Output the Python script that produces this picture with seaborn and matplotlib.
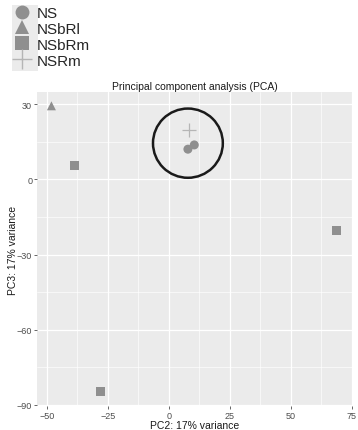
import numpy as np
import pandas as pd
import matplotlib
matplotlib.use("Agg")
import matplotlib.pyplot as plt
import seaborn as sns
from matplotlib.patches import Ellipse, Rectangle

# PCA scores
groups = ['NSbRl', 'NSbRm', 'NSRm', 'NS', 'NS', 'NSbRm', 'NSbRm']
pc2 = [-48.1, -38.6, 8.3, 7.8, 10.4, -27.9, 68.8]
pc3 = [29.3, 5.4, 19.5, 12.0, 13.7, -84.8, -20.5]
group_order = ['NS', 'NSbRl', 'NSbRm', 'NSRm']
group_markers = {'NS': 'o', 'NSbRl': '^', 'NSbRm': 's', 'NSRm': '+'}
x_ticks = [-50, -25, 0, 25, 50, 75]
y_ticks = [30, 0, -30, -60, -90]

df = pd.DataFrame({'group': groups, 'PC2': pc2, 'PC3': pc3})

sns.set_style("darkgrid", {"axes.facecolor": "#EBEBEB", "grid.color": "white"})
plt.rcParams['font.family'] = ['Liberation Sans', 'DejaVu Sans']

my_dpi = 100
fig = plt.figure(figsize=(358 / my_dpi, 431 / my_dpi), dpi=my_dpi)
ax = fig.add_axes([0.1034, 0.0557, 0.8798, 0.7285])

# filled markers go through seaborn, the line-art plus separately
filled = df[df['group'] != 'NSRm']
filled_order = [g for g in group_order if g != 'NSRm']
sns.scatterplot(data=filled, x='PC2', y='PC3', style='group',
                style_order=filled_order,
                markers={g: group_markers[g] for g in filled_order},
                color='#8f8f8f', s=42, linewidth=0, ax=ax, legend=False,
                zorder=3)
plus = df[df['group'] == 'NSRm']
sns.scatterplot(data=plus, x='PC2', y='PC3', marker='+', s=90,
                color='#b5b5b5', linewidth=0.9, ax=ax, legend=False, zorder=3)

# highlight circle around the NS cluster
ax.add_patch(Ellipse((7.8, 14.4), 28.6, 27.6, fill=False,
                     edgecolor='#1a1a1a', linewidth=1.8, zorder=4))

ax.set_xlim(-54.0, 75.0)
ax.set_ylim(-90.4, 34.8)
ax.set_xticks(x_ticks)
ax.set_yticks(y_ticks)
ax.set_xticks([-37.5, -12.5, 12.5, 37.5, 62.5], minor=True)
ax.set_yticks([-75, -45, -15, 15], minor=True)
ax.grid(which='major', color='white', linewidth=0.9)
ax.grid(which='minor', color='white', linewidth=0.45)
ax.tick_params(axis='both', which='major', length=2.5, width=0.6,
               colors='#4d4d4d', labelsize=6.5, pad=1, bottom=True, left=True)
ax.tick_params(axis='both', which='minor', length=0)
for s in ax.spines.values():
    s.set_visible(False)

ax.set_xlabel('PC2: 17% variance', fontsize=7.5, labelpad=0, color='#1a1a1a')
ax.set_ylabel('PC3: 17% variance', fontsize=7.5, labelpad=-1, color='#1a1a1a')
ax.set_title('Principal component analysis (PCA)', fontsize=7.5, pad=2.5,
             color='#1a1a1a')

# legend with grey key background above the panel
fig.patches.append(Rectangle((12 / 358, 1 - 72 / 431), 26 / 358, 66 / 431,
                             transform=fig.transFigure, facecolor='#EBEBEB',
                             edgecolor='none', zorder=0))
handles = []
for g in group_order:
    m = group_markers[g]
    if m == '+':
        h = plt.Line2D([], [], marker='+', linestyle='none', color='#b5b5b5',
                       markersize=15, markeredgewidth=1)
    else:
        h = plt.Line2D([], [], marker=m, linestyle='none', color='#8f8f8f',
                       markersize=10, markeredgewidth=0)
    handles.append(h)
fig.legend(handles, group_order, loc='upper left',
           bbox_to_anchor=(12 / 358, 1 - 7 / 431), frameon=False,
           fontsize=11, handlelength=1.3, handletextpad=0.3,
           labelspacing=0.12, borderaxespad=0, borderpad=0)

plt.savefig('out.png', dpi=my_dpi)
